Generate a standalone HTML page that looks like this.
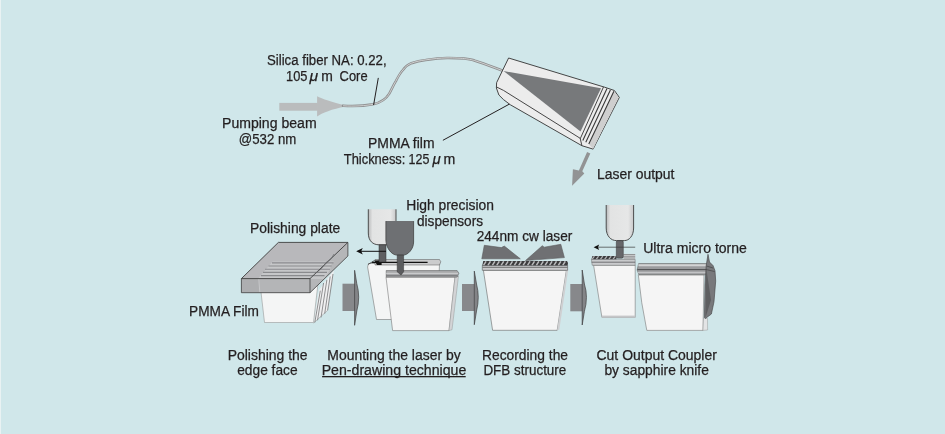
<!DOCTYPE html>
<html><head><meta charset="utf-8">
<style>
html,body{margin:0;padding:0;background:#d0e7ea;}
body{width:945px;height:434px;overflow:hidden;position:relative;}
svg{position:absolute;left:0;top:0;display:block;}
.ov{will-change:transform;}
text{font-family:"Liberation Sans",sans-serif;font-size:14px;fill:#231f20;stroke:#231f20;stroke-width:0.25px;}
</style></head><body>
<svg width="945" height="434" viewBox="0 0 945 434">
<defs><linearGradient id="dispg" x1="0" y1="0" x2="1" y2="0"><stop offset="0" stop-color="#b9babb"/><stop offset="0.15" stop-color="#e2e3e3"/><stop offset="0.8" stop-color="#e6e7e7"/><stop offset="1" stop-color="#c8c9ca"/></linearGradient><clipPath id="gclip"><path d="M483.2,261 L567,261 L568,263 L567.6,265.5 L482.3,265.5 Z"/></clipPath><clipPath id="g4clip"><path d="M592.4,256 L616.5,256 L616.5,259.5 L591.4,259.5 Z"/></clipPath><clipPath id="plateclip"><path d="M278.4,242.4 L347.9,242.4 L347.9,256 L310,292.7 L310,278.6 L241.4,278.6 Z"/></clipPath></defs>
<rect x="0" y="0" width="945" height="434" fill="#d0e7ea"/>
<rect x="0" y="0" width="1" height="434" fill="#e9f2f3"/>

<!-- ===== TOP: pump arrow, fiber, wedge ===== -->
<g id="top">
<!-- pump arrow -->
<rect x="279.3" y="102.9" width="38.5" height="7.8" fill="#babcbd"/>
<path d="M317.1,96.2 C322,98.5 332,102.5 345.5,105.3 L345.5,106.5 C332,109 322,113 317.1,116.6 Z" fill="#babcbd"/>
<!-- fiber -->
<path id="fib" d="M343,105.8 C355,106.6 366,105.6 373,104.3 C381,102.6 386,99 389.3,93.6 C392,88.5 393.5,85 395.7,81.4 C398,77 400,73 402.9,70 C405.5,66.5 408,64.5 411.4,63.2 C416,61.6 420,60.6 425.7,59.9 C433,58.8 440,58 447,57.9 C455,57.8 460,58.2 464.3,58.6 C470,59.3 473,60 475,60.7 C484,63.5 494,67.5 503.5,71" fill="none" stroke="#8e8f90" stroke-width="2.5" stroke-linecap="round"/>
<path d="M343,105.8 C355,106.6 366,105.6 373,104.3 C381,102.6 386,99 389.3,93.6 C392,88.5 393.5,85 395.7,81.4 C398,77 400,73 402.9,70 C405.5,66.5 408,64.5 411.4,63.2 C416,61.6 420,60.6 425.7,59.9 C433,58.8 440,58 447,57.9 C455,57.8 460,58.2 464.3,58.6 C470,59.3 473,60 475,60.7 C484,63.5 494,67.5 503.5,71" fill="none" stroke="#d6d7d7" stroke-width="0.9"/>
<!-- pointer lines -->
<line x1="378.3" y1="77.9" x2="373.6" y2="105" stroke="#231f20" stroke-width="1"/>
<line x1="442.9" y1="140.3" x2="510.3" y2="103.6" stroke="#231f20" stroke-width="1"/>
<!-- wedge -->
<g stroke="#333" stroke-width="0.9" stroke-linejoin="round">
<path d="M508.6,58 L604.6,87.2 L614.4,90.5 L619.3,97.4 L593.1,149.1 L581.9,145.7 L510.4,104.8 L503.5,99.6 L498.9,95 L496.4,88 L496.6,82.7 Z" fill="#ececec"/>
<path d="M496.6,87 L503.5,90.4 L580.2,138.3 L581.9,145.7" fill="none"/>
<path d="M503.5,71 L601,88.2 L580.5,131.5 Z" fill="#77797b" stroke="none"/>
<path d="M614,91 L618.6,97.5 L593.1,149.1 L588.8,143.9 Z" fill="#cfcfcf" stroke="none"/>
<path d="M603.5,86.9 L580.2,138.8" fill="none"/>
<path d="M607,88.6 L582.8,140.5 M610.4,90.1 L585.8,142.2 M613.9,91.2 L588.8,143.9" fill="none" stroke="#3a3a3a" stroke-width="1.1"/>
</g>
<!-- laser output arrow -->
<path d="M587.1,152.1 L590.3,153.4 L582.3,171.2 L584.3,173.6 L572.1,185.7 L572.9,169.3 L578.9,170.5 Z" fill="#929394"/>
</g>

<!-- ===== BOTTOM ROW ===== -->
<g id="bottom">
<!-- ===== step 1: polishing ===== -->
<g stroke-linejoin="round">
<!-- thin film slabs on right of holder -->
<path d="M313.6,323 L319,290 L334,270 L333,276 L327.6,310.4 Z" fill="#efeff0" stroke="none"/>
<path d="M314.8,322.5 L320.3,290.7 M317.5,320.3 L323.6,283 M321,317.5 L326.9,279.8 M324.7,313.7 L330.2,276.5 M327.6,310.4 L333,274" stroke="#4f4f51" stroke-width="0.6" fill="none"/>
<path d="M313.6,323 L327.6,310.4" stroke="#888" stroke-width="0.5"/>
<!-- white holder -->
<path d="M259.5,279 L318.5,279 L313.5,322.5 L264.5,322.5 Z" fill="#f4f5f5" stroke="#888" stroke-width="0.5"/>
<!-- plate top -->
<path d="M278.4,242.4 L347.9,242.4 L310,278.6 L241.4,278.6 Z" fill="#b8b8bb"/>
<path d="M310,278.6 L347.9,242.4 L347.9,256 L310,292.7 Z" fill="#b5b6b8"/>
<path d="M241.4,278.6 L310,278.6 L310,292.7 L241.4,292.7 Z" fill="#adaeb0"/>
<path d="M259.2,279.1 L310,279.1 L310,292.3 L260,292.3 Z" fill="#b4b5b7"/>
<path d="M258.8,279 L259.8,292.5" stroke="#c6c7c9" stroke-width="1"/>
<g clip-path="url(#plateclip)">
<path d="M272.6,261.4 L334,261.4 L331,265 L330,270 L324,279 L258.1,278.4 Z" fill="#c6c7c9"/>
<path d="M272,262.9 L333.5,262.9 M268.5,266 L331.5,266 M265,269.3 L330,269.3 M263,272.4 L327,272.4 M261,275.6 L324.5,275.6" stroke="#8a8b8e" stroke-width="1.1" fill="none"/>
</g>
<path d="M278.4,242.4 L347.9,242.4 L310,278.6 L241.4,278.6 Z" fill="none" stroke="#3d3d3d" stroke-width="0.9"/>
<path d="M241.4,278.6 L241.4,292.7 L310,292.7 L347.9,256 L347.9,242.4 M310,278.6 L310,292.7" fill="none" stroke="#3d3d3d" stroke-width="0.8"/>
<path d="M316,273 L322,268 L326,262.5 L331,259 L334,254" stroke="#6a6b6e" stroke-width="0.7" fill="none"/>
</g>

<!-- ===== arrows between steps ===== -->
<g>
<rect x="342.5" y="283.7" width="12.7" height="27.3" fill="#87888b"/>
<path d="M354.6,270.3 L356.8,283.7 Q360.6,297 356.8,311 L354.6,325.3 Z" fill="#838487" stroke="#3f3f41" stroke-width="0.7"/>
<rect x="462" y="284" width="12.8" height="27" fill="#87888b"/>
<path d="M474.3,271.1 L476.5,284 Q480,297 476.5,311 L474.3,324.7 Z" fill="#838487" stroke="#3f3f41" stroke-width="0.7"/>
<rect x="570.3" y="284" width="12.4" height="27.3" fill="#87888b"/>
<path d="M582.2,270 L584.4,284 Q588.5,297 584.4,311.3 L582.2,325 Z" fill="#838487" stroke="#3f3f41" stroke-width="0.7"/>
</g>

<!-- ===== step 2: mounting ===== -->
<g stroke-linejoin="round">
<!-- back block -->
<path d="M368.5,263.5 L439.5,263.5 L437.5,319.5 L376.5,319.5 L367.6,267 Z" fill="#f4f5f5" stroke="#777" stroke-width="0.6"/>
<path d="M375,259.5 L439.5,259.5 L440.8,261.8 L439.5,265 L375,265 Z" fill="#cbcccd" stroke="#555" stroke-width="0.5"/>
<path d="M372,262.4 L427.6,262.4" stroke="#111" stroke-width="1.3"/>
<path d="M374.5,260.5 L381.6,260.3 L381.6,264.9 L377,264.9 Z" fill="#111"/>
<path d="M368,264.5 L374.5,260.5" stroke="#333" stroke-width="0.8"/>
<!-- front block -->
<path d="M386,277.1 L455,277.1 L449,330.6 L392.6,330.6 Z" fill="#f5f5f5" stroke="#777" stroke-width="0.6"/>
<path d="M455,277.1 L458.5,276 L452,329.8 L449,330.6 Z" fill="#d3d4d6" stroke="#888" stroke-width="0.4"/>
<path d="M386.2,270.5 L457.1,270.5 L458.9,273.3 L457.1,277.1 L386.2,277.1 Z" fill="#a6a7a9" stroke="#555" stroke-width="0.5"/>
<path d="M386.2,273.4 L458,273.4" stroke="#c9cacc" stroke-width="1.2"/>
<path d="M386.2,275.7 L457.5,275.7" stroke="#6b6c6e" stroke-width="0.8"/>
<!-- light dispenser -->
<path d="M368.3,209.3 L396,209.3 L396,233 C396,241 391,244.8 386,244.8 L379,244.8 C373,244.8 368.3,241 368.3,233 Z" fill="url(#dispg)"/>
<path d="M368.3,209.3 L368.3,233 C368.3,241 373,244.8 379,244.8 L386,244.8 C391,244.8 396,241 396,233 L396,209.3" fill="none" stroke="#3e3e3e" stroke-width="0.9"/>
<rect x="379" y="244.8" width="7" height="17.2" fill="#5e5f61" stroke="#333" stroke-width="0.5"/>
<!-- dark dispenser -->
<path d="M385.9,221.1 L413.6,221.1 L413.6,242 C413.6,249 408,255.1 403.2,255.1 L397.2,255.1 C391,255.1 385.9,247 385.9,240 Z" fill="#6e7073"/>
<path d="M385.9,221.1 L385.9,240 C385.9,247 391,255.1 397.2,255.1 L403.2,255.1 C408,255.1 413.6,249 413.6,242 L413.6,221.1" fill="none" stroke="#444" stroke-width="0.8"/>
<path d="M397.2,255.1 L403.6,255.1 L403.6,271.8 L401,275 L397.2,271.8 Z" fill="#5b5c5e" stroke="#333" stroke-width="0.5"/>
<!-- thin arrow -->
<path d="M360,251.3 L386,251.3" stroke="#111" stroke-width="1"/>
<path d="M356.2,251.3 L362.8,248 L361.2,251.3 L362.8,254.6 Z" fill="#111"/>
</g>

<!-- ===== step 3: recording ===== -->
<g stroke-linejoin="round">
<path d="M483.4,270.2 L566.4,270.2 L557.2,330.3 L492.6,330.3 Z" fill="#f5f5f5" stroke="#666" stroke-width="0.6"/>
<path d="M566.4,270.2 L568.3,269.5 L559.3,329.8 L557.2,330.3 Z" fill="#cfd0d2"/>
<path d="M482.3,265.4 L567.6,265.4 L567.6,270.3 L482.3,270.3 Z" fill="#c9cacc" stroke="#444" stroke-width="0.5"/>
<path d="M482.5,267.3 L567.5,267.3" stroke="#555" stroke-width="0.8"/>
<path d="M483.2,261 L567,261 L568,263 L567.6,265.5 L482.3,265.5 Z" fill="#3c3c3e"/>
<path d="M483.5,265.3 L486.1,261.3 M487.9,265.3 L490.5,261.3 M492.3,265.3 L494.9,261.3 M496.7,265.3 L499.3,261.3 M501.1,265.3 L503.7,261.3 M505.5,265.3 L508.1,261.3 M509.9,265.3 L512.5,261.3 M514.3,265.3 L516.9,261.3 M518.7,265.3 L521.3,261.3 M523.1,265.3 L525.7,261.3 M527.5,265.3 L530.1,261.3 M531.9,265.3 L534.5,261.3 M536.3,265.3 L538.9,261.3 M540.7,265.3 L543.3,261.3 M545.1,265.3 L547.7,261.3 M549.5,265.3 L552.1,261.3 M553.9,265.3 L556.5,261.3 M558.3,265.3 L560.9,261.3 M562.7,265.3 L565.3,261.3" stroke="#b9babc" stroke-width="1.5" clip-path="url(#gclip)"/>
<!-- beams -->
<path d="M484.3,245.3 L501.4,247.6 L504.3,246.1 L520.3,258.8 L481.8,258.8 Z" fill="#6f7073" stroke="#5c5c5e" stroke-width="0.6"/>
<path d="M560.8,244.3 L544.2,247.2 L542.3,245.7 L525.5,260.6 L564.4,257.6 Z" fill="#6f7073" stroke="#5c5c5e" stroke-width="0.6"/>
</g>

<!-- ===== step 4: cutting ===== -->
<g stroke-linejoin="round">
<!-- block 4a -->
<path d="M593.6,265.2 L635.2,265.2 L635.2,317.3 L601.9,317.3 Z" fill="#f5f5f5" stroke="#777" stroke-width="0.6"/>
<rect x="601.9" y="315.6" width="33.3" height="2" fill="#c5c6c8"/>
<path d="M592.4,256 L616.5,256 L616.5,259.5 L591.4,259.5 Z" fill="#3c3c3e"/>
<path d="M592.0,259.4 L594.4,256.2 M596.2,259.4 L598.6,256.2 M600.4,259.4 L602.8,256.2 M604.6,259.4 L607.0,256.2 M608.8,259.4 L611.2,256.2 M613.0,259.4 L615.4,256.2" stroke="#b0b1b3" stroke-width="1.3" clip-path="url(#g4clip)"/>
<path d="M623.5,253.9 L635.2,253.9 L635.2,259.5 L623.5,259.5 Z" fill="#d2d3d4"/>
<path d="M623.5,254.5 L635.2,254.5 M623.5,256.3 L635.2,256.3 M623.5,258 L635.2,258" stroke="#77787a" stroke-width="0.7"/>
<path d="M591.4,259.5 L635.2,259.5 L635.2,265.3 L592.2,265.3 Z" fill="#c9cacc" stroke="#555" stroke-width="0.4"/>
<path d="M591.6,262.2 L635.2,262.2" stroke="#5a5b5d" stroke-width="0.8"/>
<!-- dispenser 3 -->
<path d="M606.2,205 L633.6,205 L633.6,228 C633.6,236 629,240.6 624.4,240.6 L616.3,240.6 C611,240.6 606.2,236 606.2,228 Z" fill="url(#dispg)"/>
<path d="M606.2,205 L606.2,228 C606.2,236 611,240.6 616.3,240.6 L624.4,240.6 C629,240.6 633.6,236 633.6,228 L633.6,205" fill="none" stroke="#3e3e3e" stroke-width="0.9"/>
<rect x="616.3" y="240.6" width="7" height="17.6" rx="1.5" fill="#66676a" stroke="#333" stroke-width="0.5"/>
<!-- thin arrow -->
<path d="M597.5,247.2 L635.2,247.2" stroke="#3a3a3a" stroke-width="0.7"/>
<path d="M593.6,247.2 L599.2,244.5 L598,247.2 L599.2,250 Z" fill="#111"/>
<!-- block 4b -->
<path d="M638.3,274.8 L704,274.8 L703,330.4 L646.8,330.4 Q641,303 638.3,274.8 Z" fill="#f5f5f5" stroke="#777" stroke-width="0.6"/>
<path d="M703.5,318 L707.5,318.5 L707.6,330 L703,330.4 Z" fill="#e3e4e5" stroke="#888" stroke-width="0.4"/>
<path d="M638.6,263.6 L706.5,263.6 L706.5,274.8 L639,274.8 L637.1,270 Z" fill="#9a9b9d" stroke="#555" stroke-width="0.5"/>
<path d="M638.4,265.3 L706.5,265.3" stroke="#d3d4d5" stroke-width="2"/>
<path d="M637.3,269.6 L706.5,269.6" stroke="#4e4f51" stroke-width="1"/>
<path d="M637.8,272.5 L706.5,272.5" stroke="#c2c3c5" stroke-width="1.3"/>
<!-- shard -->
<path d="M708,254.3 L709.5,262 L713,265.5 L715,270.7 L715.7,281.1 L714,301.8 L711.4,314 L705.4,318.5 L704.4,317.4 L705,285 L706.2,265.6 Z" fill="#78797c" stroke="#404042" stroke-width="0.6"/>
<path d="M706.2,268 L711,300 L705.4,318" fill="#5e5f61" stroke="none"/>
<path d="M706.5,266 L713,268 M706,269.5 L714.5,271.5" stroke="#3a3a3a" stroke-width="0.6"/>
</g>
</g>

</svg>
<svg class="ov" width="945" height="434" viewBox="0 0 945 434">
<!-- ===== TEXT ===== -->
<g id="texts">
<text x="267.0" y="64.9" textLength="119.6" lengthAdjust="spacingAndGlyphs">Silica fiber NA: 0.22,</text>
<text x="286" y="81.1" textLength="21.4" lengthAdjust="spacingAndGlyphs">105</text><text x="309.6" y="81.1" font-style="italic" textLength="8.6" lengthAdjust="spacingAndGlyphs">μ</text><text x="321.2" y="81.1" textLength="11.6" lengthAdjust="spacingAndGlyphs">m</text><text x="339.6" y="81.1" textLength="28" lengthAdjust="spacingAndGlyphs">Core</text>
<text x="222.0" y="127.7" textLength="94.6" lengthAdjust="spacingAndGlyphs">Pumping beam</text>
<text x="238.8" y="143.7" textLength="57.5" lengthAdjust="spacingAndGlyphs">@532 nm</text>
<text x="368.0" y="148.3" textLength="66.5" lengthAdjust="spacingAndGlyphs">PMMA film</text>
<text x="343.8" y="164.2" textLength="61.6" lengthAdjust="spacingAndGlyphs">Thickness:</text><text x="408.6" y="164.2" textLength="20.8" lengthAdjust="spacingAndGlyphs">125</text><text x="432.4" y="164.2" font-style="italic" textLength="8.2" lengthAdjust="spacingAndGlyphs">μ</text><text x="443.6" y="164.2" textLength="11.8" lengthAdjust="spacingAndGlyphs">m</text>
<text x="597.0" y="178.6" textLength="77.5" lengthAdjust="spacingAndGlyphs">Laser output</text>
<text x="406.2" y="210.4" textLength="87.8" lengthAdjust="spacingAndGlyphs">High precision</text>
<text x="417.0" y="225.7" textLength="66.0" lengthAdjust="spacingAndGlyphs">dispensors</text>
<text x="250.1" y="233.1" textLength="90.1" lengthAdjust="spacingAndGlyphs">Polishing plate</text>
<text x="476.7" y="241.4" textLength="95.6" lengthAdjust="spacingAndGlyphs">244nm cw laser</text>
<text x="643.2" y="253" textLength="103.7" lengthAdjust="spacingAndGlyphs">Ultra micro torne</text>
<text x="189.1" y="316.3" textLength="69.8" lengthAdjust="spacingAndGlyphs">PMMA Film</text>
<text x="227.7" y="359.6" textLength="79.9" lengthAdjust="spacingAndGlyphs">Polishing the</text>
<text x="237.2" y="375.4" textLength="60.4" lengthAdjust="spacingAndGlyphs">edge face</text>
<text x="327.3" y="359.5" textLength="133.4" lengthAdjust="spacingAndGlyphs">Mounting the laser by</text>
<text x="321.7" y="374.7" textLength="144.6" lengthAdjust="spacingAndGlyphs">Pen-drawing technique</text>
<rect x="322.1" y="376" width="143.6" height="1.3" fill="#231f20"/>
<text x="482.0" y="359.6" textLength="86.0" lengthAdjust="spacingAndGlyphs">Recording the</text>
<text x="483.4" y="375.4" textLength="82.9" lengthAdjust="spacingAndGlyphs">DFB structure</text>
<text x="596.5" y="359.5" textLength="120.4" lengthAdjust="spacingAndGlyphs">Cut Output Coupler</text>
<text x="604.4" y="374.9" textLength="104.5" lengthAdjust="spacingAndGlyphs">by sapphire knife</text>
</g>
</svg>
</body></html>
